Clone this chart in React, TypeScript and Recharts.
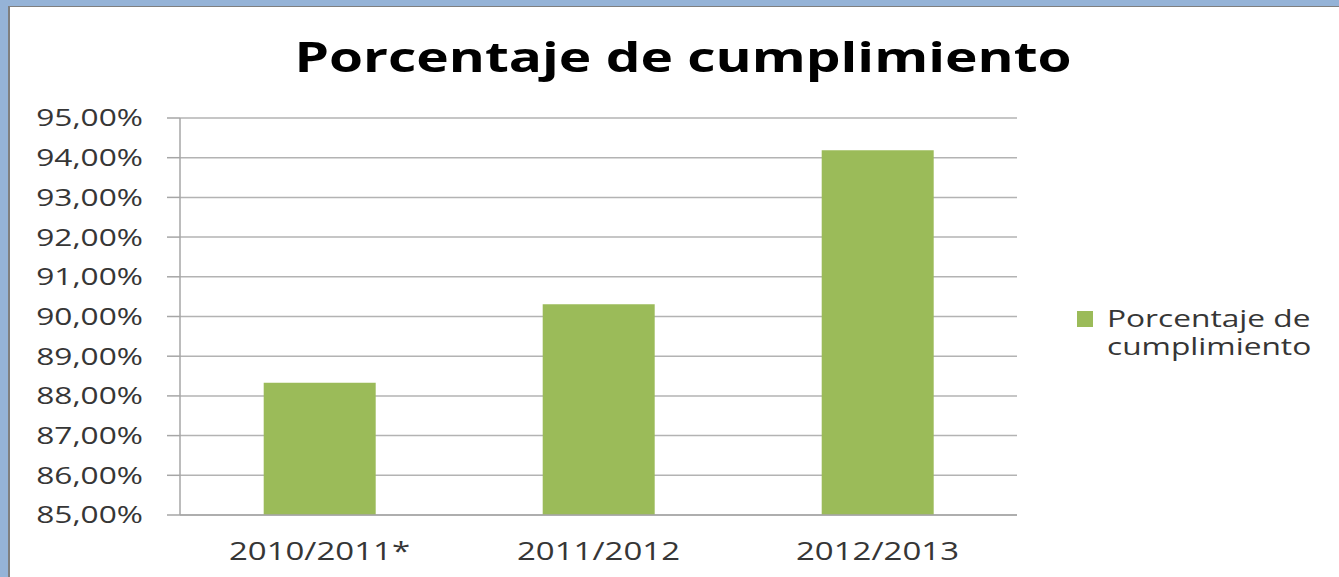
import React from "react";
import { BarChart, Bar, XAxis, YAxis, CartesianGrid, Legend } from "recharts";

const categories = ["2010/2011*", "2011/2012", "2012/2013"];
const values = [88.33, 90.31, 94.19];
const yTicks = [85, 86, 87, 88, 89, 90, 91, 92, 93, 94, 95];
const edgeTicks = [0, 1, 2, 3];
const seriesName = "Porcentaje de cumplimiento";
const titleText = "Porcentaje de cumplimiento";

const data = categories.map((c, i) => ({ cat: c, value: values[i] }));

const FONT = "'Open Sans', sans-serif";
const TEXT = "#363636";
const STRETCH = 1.32;
const BLUE = "#95B3D7";
const EDGE = "#7f7f7f";

const fmt = (v: number) => v.toFixed(2).replace(".", ",") + "%";

const YTick = (props: any) => {
  const { x, y, payload } = props;
  return (
    <g transform={`translate(${x},${y})`}>
      <text transform={`scale(${STRETCH},1)`} textAnchor="end" dy="0.35em" fontSize={24} fill={TEXT} fontFamily={FONT}>
        {fmt(payload.value)}
      </text>
    </g>
  );
};

const XTick = (props: any) => {
  const { x, y, payload } = props;
  return (
    <g transform={`translate(${x},${y})`}>
      <text transform={`scale(${STRETCH},1)`} textAnchor="middle" fontSize={25} fill={TEXT} fontFamily={FONT}>
        {payload.value}
      </text>
    </g>
  );
};

const LegendContent = (props: any) => {
  const items = props.payload || [];
  return (
    <div style={{ paddingLeft: 60 }}>
      {items.map((it: any, i: number) => (
        <div key={i} style={{ display: "flex", alignItems: "flex-start" }}>
          <div style={{ width: 16, height: 16, background: it.color, marginTop: 7, flex: "none" }} />
          <div
            style={{
              marginLeft: 14,
              width: 160,
              fontFamily: FONT,
              fontSize: 24,
              lineHeight: "28px",
              color: TEXT,
              transform: `scaleX(${STRETCH})`,
              transformOrigin: "left top",
            }}
          >
            {it.value}
          </div>
        </div>
      ))}
    </div>
  );
};

export default function App() {
  return (
    <div style={{ position: "fixed", left: 0, top: 0, width: 1339, height: 577, background: "#ffffff", overflow: "hidden" }}>
      <div style={{ position: "absolute", left: 0, top: 0, width: 1339, height: 6, background: BLUE }} />
      <div style={{ position: "absolute", left: 0, top: 0, width: 8, height: 577, background: BLUE }} />
      <div style={{ position: "absolute", left: 8, top: 6, width: 1331, height: 1, background: EDGE }} />
      <div style={{ position: "absolute", left: 8, top: 6, width: 2, height: 571, background: EDGE }} />
      <div style={{ position: "absolute", left: 0, top: 0 }}>
        <BarChart
          width={1339}
          height={577}
          data={data}
          margin={{ top: 118, right: 0, bottom: 17, left: 10 }}
          barCategoryGap="30%"
        >
          <CartesianGrid horizontal={true} vertical={false} stroke="#b3b3b3" strokeWidth={1.5} />
          <XAxis
            xAxisId="edge"
            type="number"
            domain={[0, 3]}
            ticks={edgeTicks}
            tick={false}
            tickSize={10}
            axisLine={false}
            tickLine={{ stroke: "#a6a6a6", strokeWidth: 1.5 }}
            height={0}
          />
          <XAxis
            dataKey="cat"
            height={45}
            tickSize={0}
            tickMargin={45}
            tickLine={false}
            axisLine={{ stroke: "#a6a6a6", strokeWidth: 1.5 }}
            tick={<XTick />}
            interval={0}
          />
          <YAxis
            width={170}
            domain={[85, 95]}
            ticks={yTicks}
            allowDataOverflow={true}
            tickSize={13}
            tickMargin={24}
            tickLine={{ stroke: "#a6a6a6", strokeWidth: 1.5 }}
            axisLine={{ stroke: "#a6a6a6", strokeWidth: 1.5 }}
            tick={<YTick />}
            interval={0}
          />
          <Legend
            layout="vertical"
            align="right"
            verticalAlign="top"
            width={322}
            wrapperStyle={{ top: 304, width: 322 }}
            content={<LegendContent />}
          />
          <Bar dataKey="value" name={seriesName} fill="#9BBB59" isAnimationActive={false} />
        </BarChart>
      </div>
      <div
        style={{
          position: "absolute",
          left: 183,
          top: 35,
          width: 1000,
          textAlign: "center",
          fontFamily: FONT,
          fontWeight: 700,
          fontSize: 42,
          lineHeight: "42px",
          color: "#000",
          transform: `scaleX(1.31)`,
          transformOrigin: "center top",
          whiteSpace: "nowrap",
        }}
      >
        {titleText}
      </div>
    </div>
  );
}
